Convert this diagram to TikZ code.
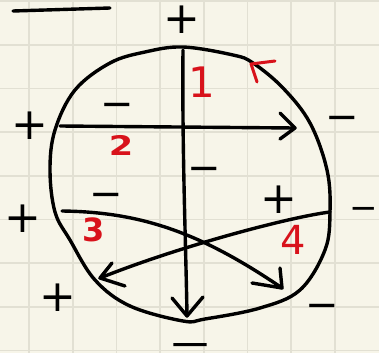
\documentclass[tikz,border=0pt]{standalone}
\usepackage{fontspec}
\newfontfamily\signfont{DejaVu Sans}
\newfontfamily\heavysign[FakeBold=12]{DejaVu Sans}
\definecolor{paper}{HTML}{F7F5E9}
\definecolor{gridc}{HTML}{E2E0D3}
\definecolor{inkred}{HTML}{D8121B}
\tikzset{
  ink/.style={line width=3.4pt, line cap=round, line join=round},
  plussign/.style={inner sep=0pt, font=\signfont\fontsize{44}{44}\selectfont},
  minussign/.style={inner sep=0pt, font=\signfont\fontsize{40}{40}\selectfont},
  smallminus/.style={inner sep=0pt, font=\signfont\fontsize{34}{34}\selectfont},
  edgeminus/.style={inner sep=0pt, anchor=base, xscale=3.2, font=\heavysign\fontsize{14}{14}\selectfont},
  digit/.style={inner sep=0pt, text=inkred},
}
\begin{document}
\begin{tikzpicture}[x=1pt,y=-1pt]
\fill[paper] (0,0) rectangle (379,353);
\useasboundingbox (0,0) rectangle (379,353);
\foreach \x in {29,72.7,116.4,160.1,203.8,247.5,291.2,334.9}
  \draw[gridc, line width=1.6pt] (\x,0) -- (\x,353);
\foreach \y in {1,44.7,88.4,132.1,175.8,219.5,263.2,306.9,350.6}
  \draw[gridc, line width=1.6pt] (0,\y) -- (379,\y);
% circle
\draw[ink] plot[smooth cycle, tension=0.6] coordinates {
 (183,47) (233,55) (253,63) (283,88) (310,123) (327,170) (330,212)
 (325,250) (300,290) (260,308) (205,319) (183,321) (130,306) (95,280)
 (70,240) (55,212) (50,170) (55,130) (75,90) (110,63) (145,52)};
% top-left dash
\coordinate (d1) at (13,11);
\coordinate (d2) at (110,8);
\draw[ink] (d1) -- (d2);
% vertical arrow 1
\coordinate (vtop) at (183,50);
\coordinate (vtip) at (187,316);
\draw[ink] (vtop) .. controls (182,150) and (186,250) .. (vtip);
\draw[ink] (172,298) -- (vtip) -- (203,297);
% horizontal arrow 2
\coordinate (hs) at (60,126);
\coordinate (ht) at (295,128);
\draw[ink] (hs) -- (ht);
\draw[ink] (280,113) -- (ht) -- (280,139);
% arrow 3
\coordinate (ts) at (62,211);
\coordinate (tt) at (282,288);
\draw[ink] (ts) .. controls (140,212) and (200,232) .. (tt);
\draw[ink] (252,283) -- (tt) -- (280,268);
% arrow 4
\coordinate (fs) at (330,212);
\coordinate (ft) at (100,278);
\draw[ink] (fs) .. controls (290,217) and (180,246) .. (ft);
\draw[ink] (112,263) -- (ft) -- (125,286);
% red mark
\draw[ink, inkred, line width=3pt] (275,61) -- (251,64) -- (257,82);
% signs
\node[plussign] (p1) at (182,20) {+};
\node[plussign] (p2) at (30,126) {+};
\node[plussign] (p3) at (23,219) {+};
\node[plussign] (p4) at (58,298) {+};
\node[plussign] (p5) at (279,200) {+};
\node[minussign] (m1) at (117,110) {−};
\node[minussign] (m2) at (342,123) {−};
\node[minussign] (m3) at (204,174) {−};
\node[minussign] (m4) at (106,200) {−};
\node[smallminus] (m5) at (364,213) {−};
\node[minussign] (m6) at (322,311) {−};
\node[edgeminus] (m7) at (190,349) {−};
% digits
\node[digit, font=\signfont\fontsize{42}{42}\selectfont] (n1) at (202,82) {1};
\node[digit, font=\signfont\bfseries\fontsize{27}{27}\selectfont, xscale=1.3] (n2) at (121,145) {2};
\node[digit, font=\signfont\bfseries\fontsize{32}{32}\selectfont] (n3) at (94,230) {3};
\node[digit, font=\signfont\fontsize{40}{40}\selectfont] (n4) at (293,240) {4};
\end{tikzpicture}
\end{document}
